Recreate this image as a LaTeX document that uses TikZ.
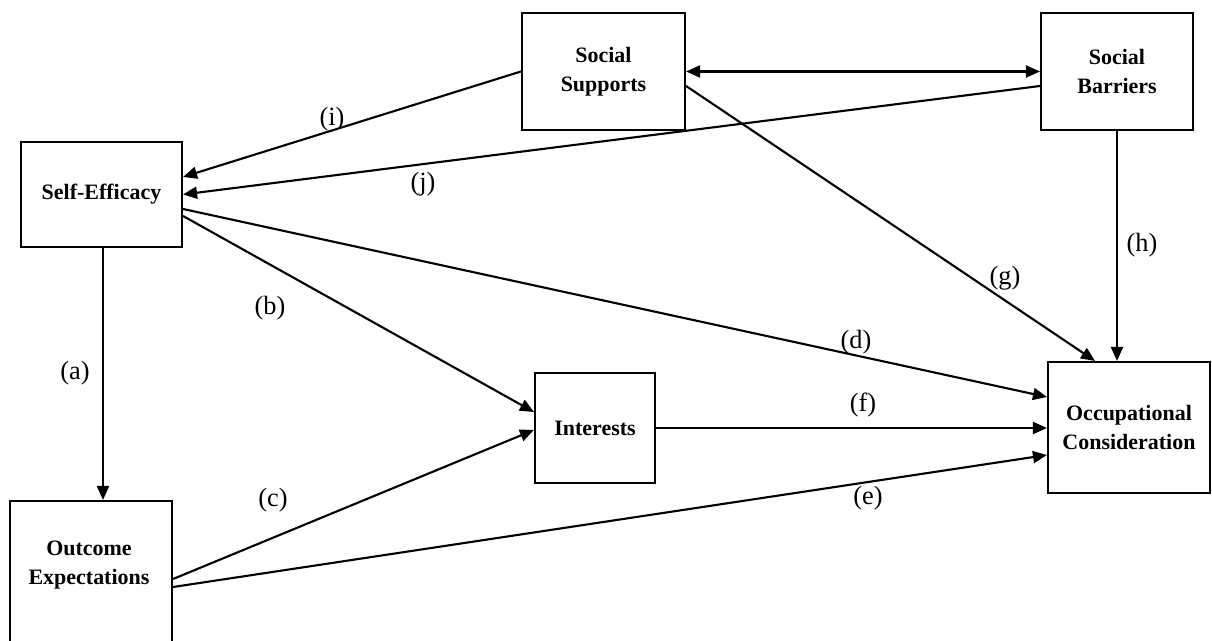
\documentclass[tikz,border=0pt]{standalone}
\usepackage{fontspec}
\setmainfont{Liberation Serif}
\usetikzlibrary{arrows.meta}

\begin{document}
\begin{tikzpicture}[
        >={Triangle[length=0.28cm,width=0.24cm]},
        box/.style={draw=black, line width=1.2pt, fill=white, align=center, font=\fontsize{12.5}{16.5}\selectfont\bfseries},
        pfeil/.style={line width=1.2pt, ->},
        marke/.style={font=\fontsize{15}{18}\selectfont}
    ]
        \clip (0,0) rectangle (24.24,12.82);
        % Kaesten
        \node[box, minimum width=3.26cm, minimum height=2.34cm] (ss) at (12.07,11.39) {Social\\Supports};
        \node[box, minimum width=3.04cm, minimum height=2.34cm] (sb) at (22.34,11.39) {Social\\Barriers};
        \node[box, minimum width=3.22cm, minimum height=2.10cm] (se) at (2.03,8.93) {Self-Efficacy};
        \node[box, minimum width=3.24cm, minimum height=3.20cm] (oe) at (1.82,1.20) {};
        \node[box, draw=none, fill=none] (oetext) at (1.78,1.52) {Outcome\\Expectations};
        \node[box, minimum width=2.40cm, minimum height=2.20cm] (it) at (11.90,4.26) {Interests};
        \node[box, minimum width=3.24cm, minimum height=2.62cm] (oc) at (22.58,4.27) {Occupational\\Consideration};
        % Pfeile
        \draw[pfeil, <->] (ss.east) -- (sb.west);
        \draw[pfeil] ([xshift=0.03cm]se.south) -- ([xshift=0.03cm]se.south |- oe.north);
        \draw[pfeil] ([yshift=-0.43cm]se.east) -- ([yshift=0.32cm]it.west);
        \draw[pfeil] ([yshift=0.04cm]oe.east) -- ([yshift=-0.04cm]it.west);
        \draw[pfeil] ([yshift=-0.29cm]se.east) -- ([yshift=0.61cm]oc.west);
        \draw[pfeil] ([yshift=-0.12cm]oe.east) -- ([yshift=-0.55cm]oc.west);
        \draw[pfeil] (it.east) -- (it.east -| oc.west);
        \draw[pfeil] ([yshift=-0.29cm]ss.east) -- ([xshift=-0.68cm]oc.north);
        \draw[pfeil] (sb.south) -- (sb.south |- oc.north);
        \draw[pfeil] (ss.west) -- ([yshift=0.35cm]se.east);
        \draw[pfeil] ([yshift=-0.29cm]sb.west) -- (se.east);
        % Beschriftungen
        \node[marke] (la) at (1.50,5.36) {(a)};
        \node[marke] (lb) at (5.40,6.66) {(b)};
        \node[marke] (lc) at (5.46,2.82) {(c)};
        \node[marke] (ld) at (17.12,5.98) {(d)};
        \node[marke] (le) at (17.36,2.86) {(e)};
        \node[marke] (lf) at (17.26,4.72) {(f)};
        \node[marke] (lg) at (20.10,7.26) {(g)};
        \node[marke] (lh) at (22.84,7.92) {(h)};
        \node[marke] (li) at (6.64,10.44) {(i)};
        \node[marke] (lj) at (8.46,9.14) {(j)};
\end{tikzpicture}
\end{document}
